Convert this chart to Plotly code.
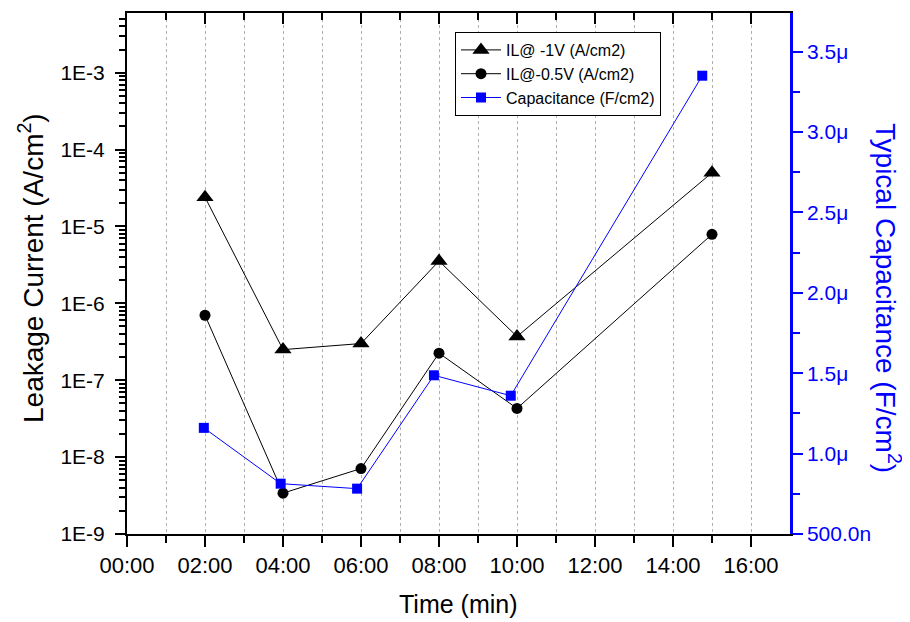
import plotly.graph_objects as go

# ---- data ----
x_il = [2, 4, 6, 8, 10, 15]
il_1v = [2.4e-5, 2.5e-7, 3.0e-7, 3.55e-6, 3.7e-7, 5.0e-5]
il_05v = [7.0e-7, 3.4e-9, 7.1e-9, 2.25e-7, 4.3e-8, 7.9e-6]
x_cap = [1.97, 3.94, 5.9, 7.87, 9.84, 14.75]
cap = [1.16e-6, 0.813e-6, 0.782e-6, 1.487e-6, 1.36e-6, 3.35e-6]

x_major = [0, 2, 4, 6, 8, 10, 12, 14, 16]
x_labels = ["00:00", "02:00", "04:00", "06:00", "08:00", "10:00", "12:00", "14:00", "16:00"]
x_minor = [1, 3, 5, 7, 9, 11, 13, 15]
y_major = [1e-9, 1e-8, 1e-7, 1e-6, 1e-5, 1e-4, 1e-3]
y_labels = ["1E-9", "1E-8", "1E-7", "1E-6", "1E-5", "1E-4", "1E-3"]
y2_major = [0.5e-6, 1.0e-6, 1.5e-6, 2.0e-6, 2.5e-6, 3.0e-6, 3.5e-6]
y2_labels = ["500.0n", "1.0\u03bc", "1.5\u03bc", "2.0\u03bc", "2.5\u03bc", "3.0\u03bc", "3.5\u03bc"]
y2_minor = [0.75e-6, 1.25e-6, 1.75e-6, 2.25e-6, 2.75e-6, 3.25e-6]

y_minor = []
for e in range(-9, -2):
    for m in range(2, 10):
        v = m * 10.0 ** e
        if v < 6e-3:
            y_minor.append(v)

FONT = "Liberation Sans, Arial, sans-serif"
BLUE = "#0000FF"

# page body has an 8px margin -> figure is 8px smaller, plot area kept at same screen place
L, T, PW, PH = 119, 5, 663, 521
W, H = 902, 614

def px(xs):  # screen x (reference) -> paper
    return (xs - 8 - L) / PW

def py(ys):  # screen y (reference) -> paper
    return 1 - (ys - 8 - T) / PH

fig = go.Figure()
fig.add_trace(go.Scatter(
    x=x_il, y=il_1v, name="IL@ -1V (A/cm2)", mode="lines+markers",
    line=dict(color="#000000", width=1),
    marker=dict(symbol="triangle-up", size=15, color="#000000")))
fig.add_trace(go.Scatter(
    x=x_il, y=il_05v, name="IL@-0.5V (A/cm2)", mode="lines+markers",
    line=dict(color="#000000", width=1),
    marker=dict(symbol="circle", size=11, color="#000000")))
fig.add_trace(go.Scatter(
    x=x_cap, y=cap, name="Capacitance (F/cm2)", mode="lines+markers",
    yaxis="y2",
    line=dict(color=BLUE, width=1),
    marker=dict(symbol="square", size=10, color=BLUE)))
# invisible trace for top axis
fig.add_trace(go.Scatter(x=[0], y=[1e-9], xaxis="x2", mode="markers",
                         marker=dict(opacity=0), showlegend=False, hoverinfo="skip"))

fig.update_layout(
    width=W, height=H,
    margin=dict(l=L, r=W - L - PW, t=T, b=H - T - PH),
    paper_bgcolor="white", plot_bgcolor="white",
    font=dict(family=FONT, size=21, color="#000000"),
    showlegend=True,
    legend=dict(x=px(455), y=py(32), xanchor="left", yanchor="top",
                bgcolor="white", bordercolor="#000000", borderwidth=1,
                font=dict(family=FONT, size=16, color="#000000"),
                tracegroupgap=0, itemwidth=40),
    xaxis=dict(range=[0, 17], tickmode="array", tickvals=x_major, ticktext=x_labels,
               ticks="outside", ticklen=11, tickwidth=2, tickcolor="#000000",
               showline=True, linecolor="#000000", linewidth=2,
               showgrid=True, gridcolor="#b0b0b0", griddash="dot", gridwidth=1,
               minor=dict(tickvals=x_minor, ticks="outside", ticklen=7, tickwidth=1.5,
                          tickcolor="#000000", showgrid=True, gridcolor="#b0b0b0",
                          griddash="dot", gridwidth=1),
               zeroline=False, tickfont=dict(size=22)),
    xaxis2=dict(range=[0, 17], overlaying="x", side="top", anchor="y",
                tickmode="array", tickvals=x_major, showticklabels=False,
                ticks="inside", ticklen=11, tickwidth=2, tickcolor="#000000",
                minor=dict(tickvals=x_minor, ticks="inside", ticklen=7, tickwidth=1.5,
                           tickcolor="#000000"),
                showline=True, linecolor="#000000", linewidth=2,
                showgrid=False, zeroline=False),
    yaxis=dict(type="log", range=[-9, -2.224], tickmode="array",
               tickvals=y_major, ticktext=y_labels,
               ticks="outside", ticklen=10, tickwidth=2, tickcolor="#000000",
               minor=dict(tickvals=y_minor, ticks="outside", ticklen=6, tickwidth=1.5,
                          tickcolor="#000000"),
               showline=True, linecolor="#000000", linewidth=2,
               showgrid=False, zeroline=False, tickfont=dict(size=21),
               ticklabelstandoff=6),
    yaxis2=dict(range=[0.5e-6, 3.74e-6], overlaying="y", side="right",
                tickmode="array", tickvals=y2_major, ticktext=y2_labels,
                ticks="outside", ticklen=10, tickwidth=2, tickcolor=BLUE,
                minor=dict(tickvals=y2_minor, ticks="outside", ticklen=7, tickwidth=1.5,
                           tickcolor=BLUE),
                showline=True, linecolor=BLUE, linewidth=2.5,
                showgrid=False, zeroline=False,
                tickfont=dict(size=21, color=BLUE)),
    annotations=[
        dict(text="Time (min)", xref="paper", yref="paper",
             x=px(458), y=py(604), xanchor="center", yanchor="middle",
             showarrow=False, font=dict(family=FONT, size=25, color="#000000")),
        dict(text="Leakage Current (A/cm<sup>2</sup>)", xref="paper", yref="paper",
             x=px(31), y=py(268), xanchor="center", yanchor="middle",
             textangle=-90, showarrow=False, font=dict(family=FONT, size=28, color="#000000")),
        dict(text="Typical Capacitance (F/cm<sup>2</sup>)", xref="paper", yref="paper",
             x=px(888), y=py(298), xanchor="center", yanchor="middle",
             textangle=90, showarrow=False, font=dict(family=FONT, size=28, color=BLUE)),
    ],
)

fig.write_html("out.html")
